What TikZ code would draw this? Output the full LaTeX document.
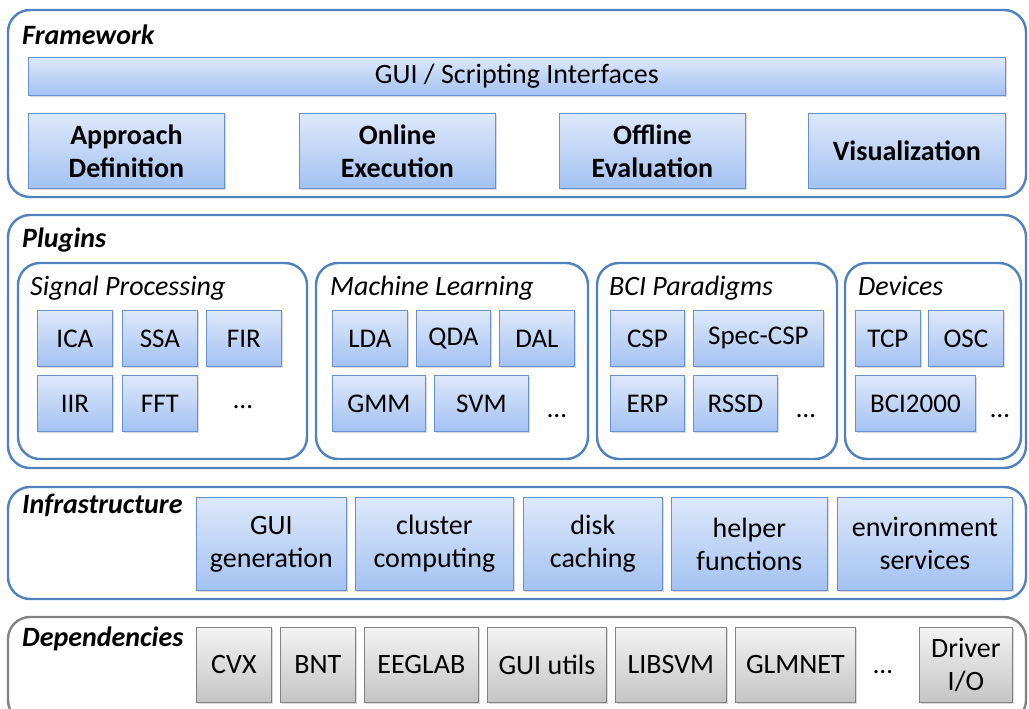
\documentclass[tikz,border=0pt]{standalone}
\usepackage{fontspec}
\setmainfont{Carlito}
\usetikzlibrary{shadows}
\definecolor{layerblue}{RGB}{79,129,189}
\definecolor{blkhi}{RGB}{222,232,250}
\definecolor{blklo}{RGB}{163,194,242}
\definecolor{blkline}{RGB}{105,145,205}
\definecolor{greyhi}{RGB}{243,243,243}
\definecolor{greylo}{RGB}{196,196,196}
\definecolor{greyline}{RGB}{130,130,130}
\tikzset{
  layer/.style={draw=layerblue, line width=2.4pt, rounded corners=22pt},
  greylayer/.style={layer, draw=greyline},
  blk/.style 2 args={draw=blkline, line width=0.8pt, top color=blkhi, bottom color=blklo,
    anchor=north west, inner sep=0pt, align=center, minimum width=#1pt, minimum height=#2pt,
    font=\fontsize{28}{33}\selectfont,
    drop shadow={opacity=0.3, shadow xshift=1.2pt, shadow yshift=-1.5pt}},
  smallblk/.style 2 args={blk={#1}{#2}, font=\fontsize{27}{33}\selectfont},
  bigblk/.style 2 args={blk={#1}{#2}, font=\fontsize{28}{33}\selectfont\bfseries},
  greyblk/.style 2 args={blk={#1}{#2}, draw=greyline, top color=greyhi, bottom color=greylo},
  layername/.style={anchor=base west, inner sep=0pt, font=\fontsize{28}{33}\selectfont\bfseries\itshape},
  groupname/.style={anchor=base west, inner sep=0pt, font=\fontsize{28}{33}\selectfont\itshape},
  more/.style={anchor=base, inner sep=0pt, font=\fontsize{27}{33}\selectfont}
}
\begin{document}
\begin{tikzpicture}[x=1pt,y=-1pt]
\clip (0,0) rectangle (1029,709);

\draw[layer] (8,10) rectangle (1026,197);
\node[layername] (framework) at (22,45) {Framework};
\node[blk={977}{38}] (gui) at (28,57) {GUI / Scripting Interfaces};
\node[bigblk={196}{75}] (approach) at (28,113) {Approach\\Definition};
\node[bigblk={196}{75}] (online) at (299,113) {Online\\Execution};
\node[bigblk={186}{75}] (offline) at (559,113) {Offline\\Evaluation};
\node[bigblk={197}{75}] (vis) at (808,113) {Visualization};

\draw[layer] (8,215) rectangle (1026,468);
\node[layername] (plugins) at (22,247) {Plugins};
\draw[layer] (18,263) rectangle (307,459);
\draw[layer] (316,263) rectangle (588,459);
\draw[layer] (597,263) rectangle (837,459);
\draw[layer] (845,263) rectangle (1021,459);
\node[groupname] (sigproc) at (30,295) {Signal Processing};
\node[groupname] (machlearn) at (330,295) {Machine Learning};
\node[groupname] (paradigms) at (609,295) {BCI Paradigms};
\node[groupname] (devices) at (858,295) {Devices};

\node[smallblk={75}{56}] (ica) at (37,310) {ICA};
\node[smallblk={75}{56}] (ssa) at (122,310) {SSA};
\node[smallblk={75}{56}] (fir) at (206,310) {FIR};
\node[smallblk={75}{56}] (iir) at (37,375) {IIR};
\node[smallblk={75}{56}] (fft) at (122,375) {FFT};
\node[more] (spmore) at (243,408) {…};

\node[smallblk={75}{56}] (lda) at (332,310) {LDA};
\node[smallblk={74}{56}] (qda) at (416,310) {QDA};
\node[smallblk={75}{56}] (dal) at (499,310) {DAL};
\node[smallblk={93}{56}] (gmm) at (332,375) {GMM};
\node[smallblk={94}{56}] (svm) at (434,375) {SVM};
\node[more] (mlmore) at (557,417) {…};

\node[smallblk={74}{56}] (csp) at (610,310) {CSP};
\node[smallblk={130}{56}] (speccsp) at (693,310) {Spec-CSP};
\node[smallblk={74}{56}] (erp) at (610,375) {ERP};
\node[smallblk={84}{56}] (rssd) at (693,375) {RSSD};
\node[more] (bcimore) at (806,417) {…};

\node[smallblk={65}{56}] (tcp) at (855,310) {TCP};
\node[smallblk={75}{56}] (osc) at (928,310) {OSC};
\node[smallblk={120}{56}] (bci2000) at (855,375) {BCI2000};
\node[more] (devmore) at (1000,417) {…};

\draw[layer] (8,487) rectangle (1026,599);
\node[layername] (infra) at (22,513) {Infrastructure};
\node[blk={150}{93}] (guigen) at (196,497) {GUI\\generation};
\node[blk={158}{93}] (cluster) at (355,497) {cluster\\computing};
\node[blk={139}{93}] (disk) at (523,497) {disk\\caching};
\node[blk={156}{93}] (helper) at (671,497) {helper\\functions};
\node[blk={175}{93}] (env) at (837,497) {environment\\services};

\draw[greylayer] (8,617) rectangle (1026,722);
\node[layername] (deps) at (22,646) {Dependencies};
\node[greyblk={75}{75}] (cvx) at (196,627) {CVX};
\node[greyblk={75}{75}] (bnt) at (280,627) {BNT};
\node[greyblk={114}{75}] (eeglab) at (364,627) {EEGLAB};
\node[greyblk={119}{75}] (guiutils) at (487,627) {GUI utils};
\node[greyblk={111}{75}] (libsvm) at (615,627) {LIBSVM};
\node[greyblk={120}{75}] (glmnet) at (735,627) {GLMNET};
\node[more] (depmore) at (883,673) {…};
\node[greyblk={93}{75}] (driver) at (919,627) {Driver\\I/O};
\end{tikzpicture}
\end{document}
